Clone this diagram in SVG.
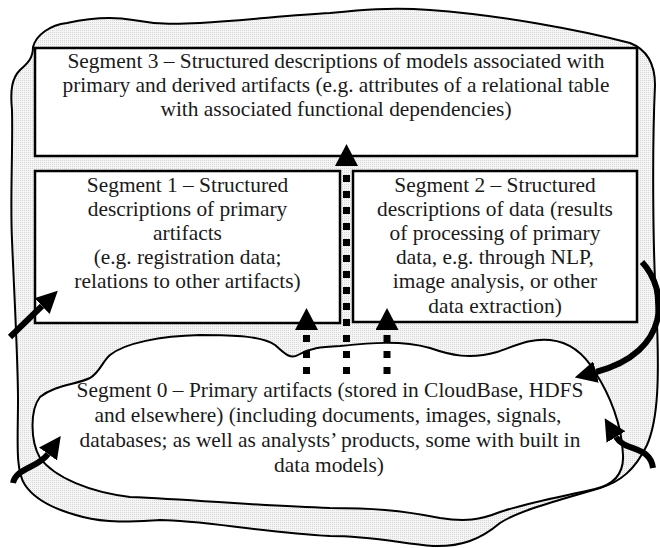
<svg xmlns="http://www.w3.org/2000/svg" width="660" height="548" viewBox="0 0 660 548">
<defs>
<pattern id="dots" width="2" height="2" patternUnits="userSpaceOnUse">
<rect width="2" height="2" fill="#f5f5f5"/>
<rect width="1" height="1" fill="#d8d8d8"/>
</pattern>
<marker id="thick" viewBox="0 0 22 22" refX="0" refY="11" markerWidth="22" markerHeight="22" markerUnits="userSpaceOnUse" orient="auto">
<path d="M0,0 L22,11 L0,22 Z" fill="#000"/>
</marker>
<marker id="dothead" viewBox="0 0 22 23" refX="0" refY="11.5" markerWidth="22" markerHeight="23" markerUnits="userSpaceOnUse" orient="auto">
<path d="M0,0 L22,11.5 L0,23 Z" fill="#000"/>
</marker>
</defs>
<style>
.blob{stroke:#000;stroke-width:2;stroke-linejoin:round}
.box{fill:#fff;stroke:#000;stroke-width:2.5}
.t{font-family:"Liberation Serif","Times New Roman",serif;font-size:21.4px;fill:#1a1a1a;text-anchor:middle}
.thick{fill:none;stroke:#000;stroke-width:6;marker-end:url(#thick)}
.dotted{fill:none;stroke:#000;stroke-width:7;stroke-dasharray:7 9;marker-end:url(#dothead)}
</style>
<g id="container">
<path class="blob" fill="url(#dots)" d="M 33 47 C 36 35, 50 25, 67 23 C 90 18, 110 16, 133 20 C 160 25, 180 24, 200 23 C 250 20, 290 15, 330 13 C 360 10, 390 7, 430 10 C 500 15, 580 30, 630 43 C 648 50, 655 65, 655 85 C 652 150, 653 250, 656 300 C 660 380, 658 420, 647 445 C 635 470, 620 482, 600 488 C 560 500, 520 510, 500 523 C 480 540, 460 547, 433 546 C 400 543, 370 536, 330 536 C 260 532, 200 520, 160 520 C 140 521, 110 524, 83 517 C 55 510, 35 500, 25 485 C 15 470, 18 440, 18 400 C 18 360, 14 290, 12 240 C 10 200, 13 150, 12 110 C 10 90, 12 78, 20 70 C 28 63, 33 58, 33 47 Z"/>
</g>
<g id="segment0">
<path class="blob" fill="#fff" d="M 110 355 C 125 343, 160 336, 200 335 C 235 335, 262 336, 275 345 C 283 352, 290 360, 298 355 C 310 348, 320 347, 340 346 C 370 343, 400 340, 430 348 C 450 355, 470 360, 497 352 C 515 346, 530 338, 550 340 C 570 342, 585 355, 595 372 C 610 395, 622 425, 623 455 C 624 475, 612 485, 595 489 C 560 497, 530 502, 500 512 C 480 520, 465 522, 440 518 C 400 510, 370 508, 330 508 C 260 506, 200 500, 130 497 C 90 492, 55 478, 40 458 C 30 440, 30 410, 40 397 C 55 385, 75 385, 90 378 C 100 372, 102 362, 110 355 Z"/>
<text class="t" x="330" y="397">Segment 0 – Primary artifacts (stored in CloudBase, HDFS</text>
<text class="t" x="328" y="422">and elsewhere) (including documents, images, signals,</text>
<text class="t" x="330" y="447">databases; as well as analysts’ products, some with built in</text>
<text class="t" x="329" y="472">data models)</text>
</g>
<g id="segment3">
<rect class="box" x="35" y="48" width="602" height="108"/>
<text class="t" x="336" y="68">Segment 3 – Structured descriptions of models associated with</text>
<text class="t" x="336" y="92">primary and derived artifacts (e.g. attributes of a relational table</text>
<text class="t" x="336" y="116">with associated functional dependencies)</text>
</g>
<g id="segment1">
<rect class="box" x="35" y="171" width="305" height="152"/>
<text class="t" x="187.5" y="192">Segment 1 – Structured</text>
<text class="t" x="187.5" y="216">descriptions of primary</text>
<text class="t" x="187.5" y="240">artifacts</text>
<text class="t" x="187.5" y="264">(e.g. registration data;</text>
<text class="t" x="187.5" y="288">relations to other artifacts)</text>
</g>
<g id="segment2">
<rect class="box" x="353" y="171" width="284" height="151"/>
<text class="t" x="495" y="192">Segment 2 – Structured</text>
<text class="t" x="495" y="216">descriptions of data (results</text>
<text class="t" x="495" y="240">of processing of primary</text>
<text class="t" x="495" y="264">data, e.g. through NLP,</text>
<text class="t" x="495" y="288">image analysis, or other</text>
<text class="t" x="495" y="313">data extraction)</text>
</g>
<g id="connectors">
<path class="dotted" d="M 306.5 374 L 306.5 330"/>
<path class="dotted" d="M 346.5 374 L 346.5 166"/>
<path class="dotted" d="M 387 374 L 387 330"/>
<path class="thick" d="M 10 337 L 42 306"/>
<path class="thick" d="M 642 262 C 668 290, 672 352, 596 372"/>
<path class="thick" d="M 13 483 C 16 468, 38 468, 48 454"/>
<path class="thick" d="M 653 468 C 650 445, 625 452, 616 437"/>
</g>
</svg>
